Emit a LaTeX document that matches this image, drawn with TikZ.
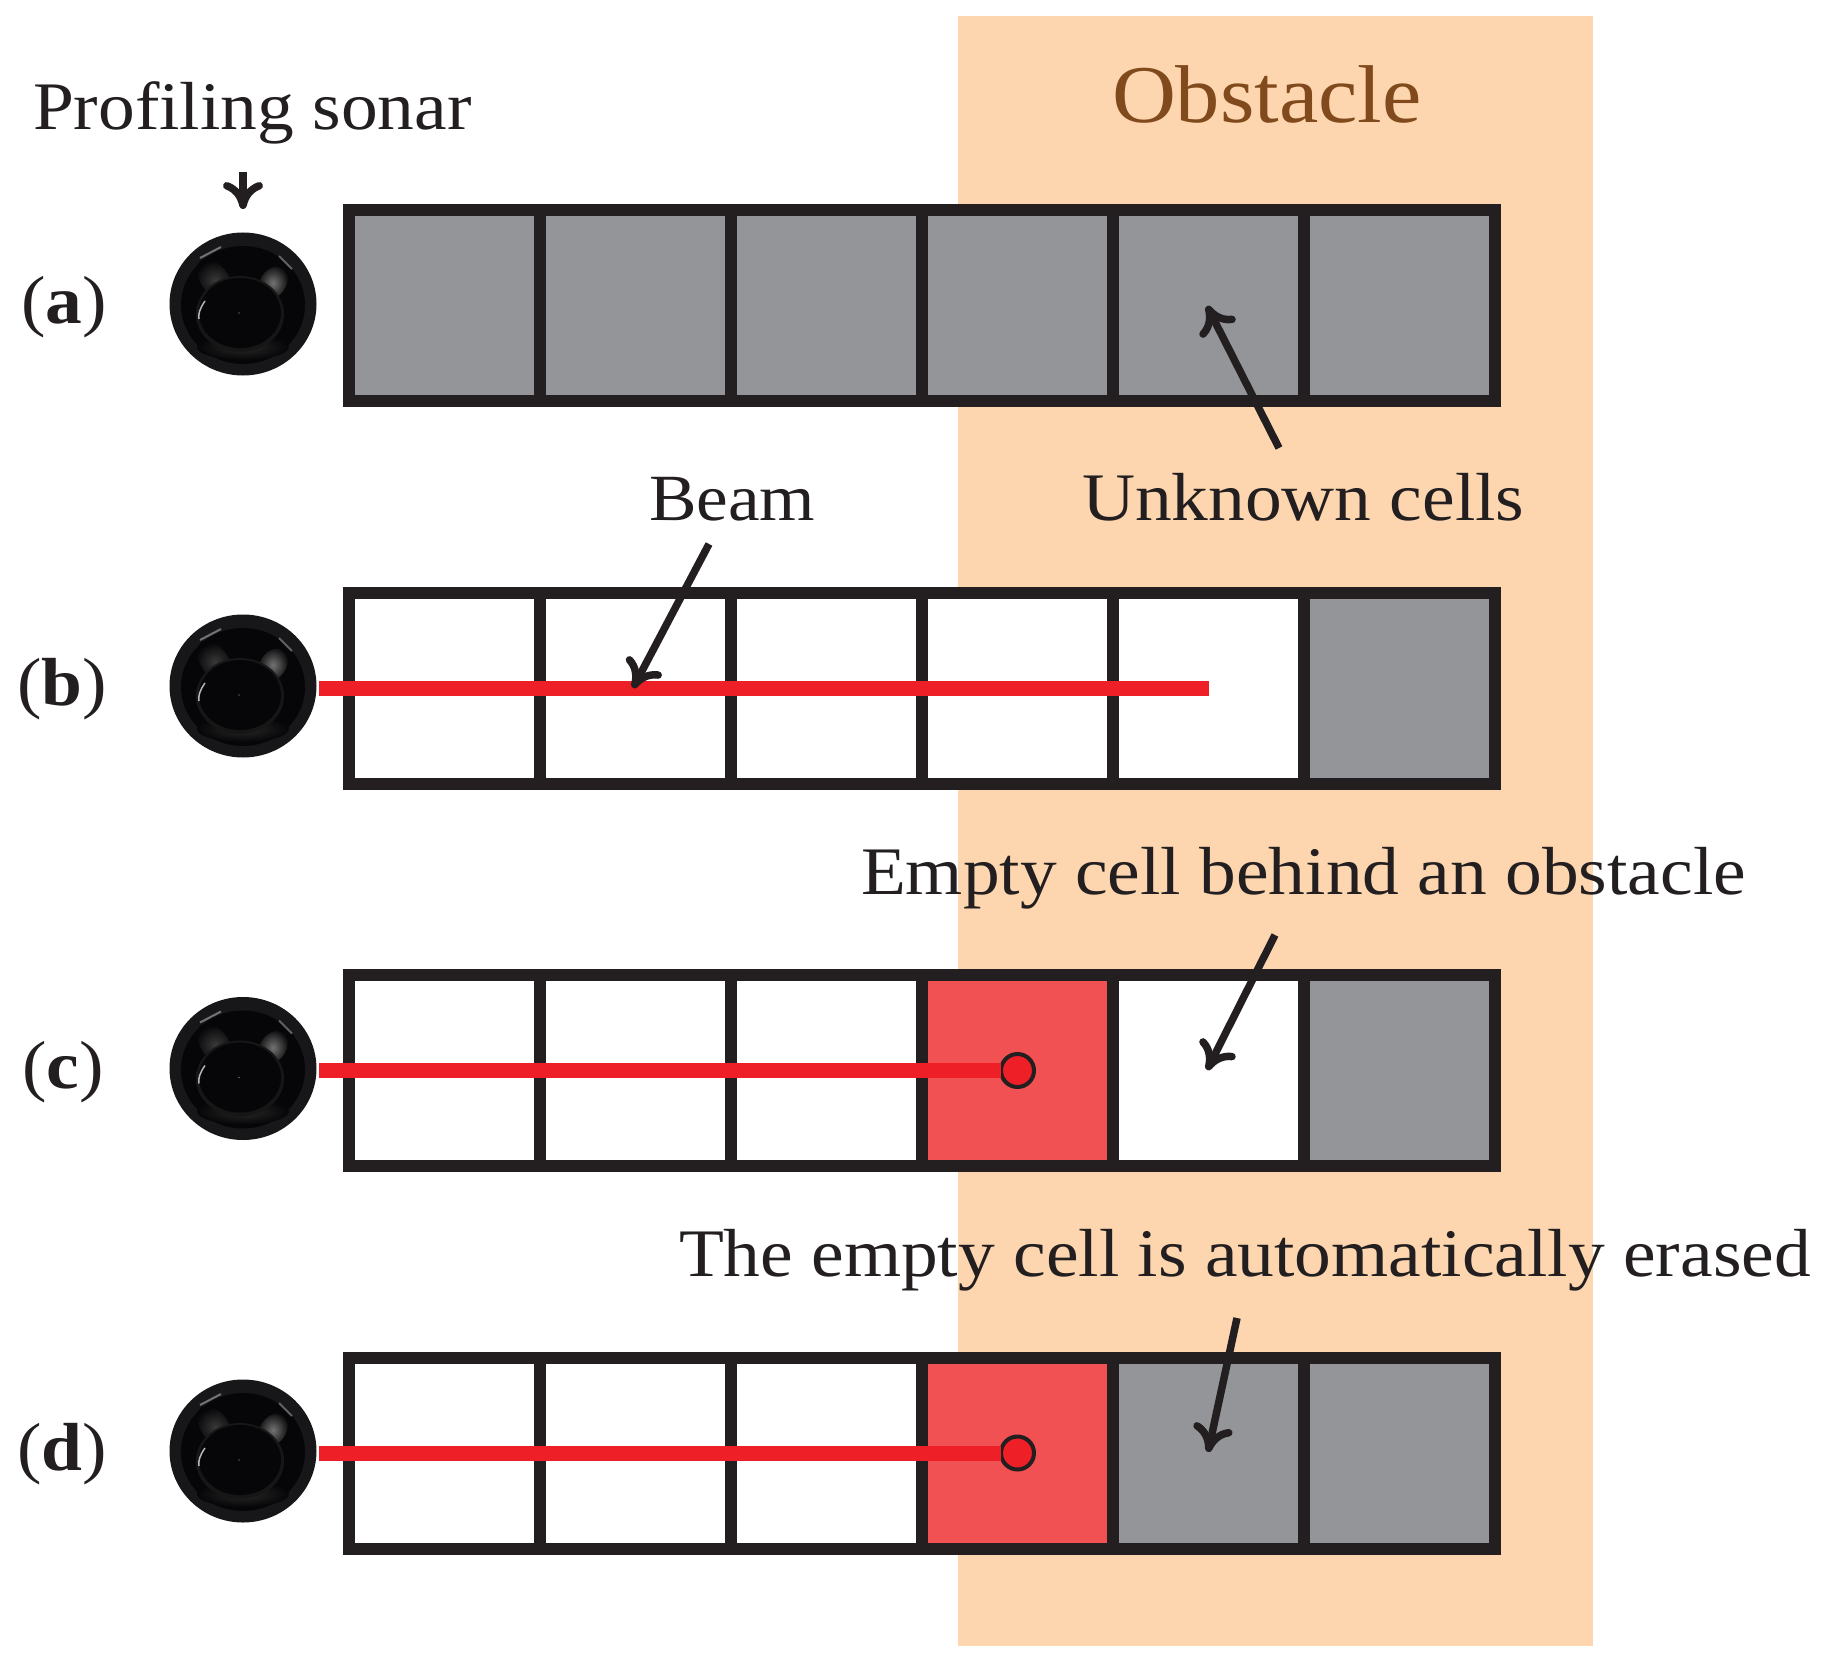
\documentclass[tikz,border=0pt]{standalone}
\usepackage{fontspec}
\setmainfont[FakeStretch=1.08]{Liberation Serif}
\usetikzlibrary{arrows.meta,shapes.geometric}
\definecolor{ink}{HTML}{231F20}
\definecolor{peach}{HTML}{FDD6B0}
\definecolor{cellgray}{HTML}{939598}
\definecolor{hitred}{HTML}{F15152}
\definecolor{beamred}{HTML}{EE1F26}
\definecolor{brownish}{HTML}{804A1C}
\definecolor{sonarrim}{HTML}{17171A}
\definecolor{sonardark}{HTML}{060608}
\tikzset{
  x=1pt,y=-1pt,
  cellbox/.style={draw=ink,line width=12pt,rectangle,inner sep=0pt,outer sep=0pt,minimum width=191pt,minimum height=191pt},
  txt/.style={inner sep=0pt,outer sep=0pt,anchor=base west,text=ink,font=\fontsize{#1}{#1}\selectfont},
  callout/.style={draw=ink,line width=7.5pt,-{Computer Modern Rightarrow[length=27pt,width=40pt,line width=7.5pt]}},
  beamline/.style={draw=beamred,line width=15pt},
  hitdot/.style={circle,draw=ink,line width=4pt,fill=beamred,minimum size=33pt,inner sep=0pt,outer sep=0pt},
  sonarbody/.style={ellipse,fill=sonarrim,minimum width=147pt,minimum height=143pt,inner sep=0pt,outer sep=0pt},
  glow/.style={inner color=#1,outer color=sonardark},
}
% #1 name, #2 y of the row centre
\newcommand{\sonardisc}[2]{%
  \node[sonarbody] (#1) at (243,#2) {};
  \begin{scope}[shift={(243,#2)}]
    \fill[sonardark] (0,1) ellipse [x radius=62,y radius=59];
    \shade[glow=white!16!black] (0,43) ellipse [x radius=46,y radius=13];
    \shade[glow=white!22!black,rotate around={35:(-28,-24)}] (-28,-24) ellipse [x radius=14,y radius=24];
    \shade[glow=white!45!black,rotate around={-35:(30,-21)}] (30,-21) ellipse [x radius=13,y radius=18];
    \shade[inner color=white!3!black,outer color=white!9!black] (-3,10) ellipse [x radius=44,y radius=38];
    \fill[sonardark] (-3,9) ellipse [x radius=41,y radius=35];
    \draw[white!72!black,line width=1.5pt] (-38,-3) .. controls (-43,4) and (-45,10) .. (-44,15);
    \draw[white!45!black,line width=2pt] (-43,-46) -- (-22,-57);
    \draw[white!38!black,line width=2pt] (36,-48) -- (49,-35);
    \fill[white!70!black] (-4,9) circle [radius=.7];
  \end{scope}
}
% #1 row prefix, #2 y centre, #3-#8 fills
\newcommand{\cellrow}[8]{%
  \node[cellbox,fill=#3] (#11) at (444.5,#2) {};
  \node[cellbox,fill=#4] (#12) at (635.5,#2) {};
  \node[cellbox,fill=#5] (#13) at (826.5,#2) {};
  \node[cellbox,fill=#6] (#14) at (1017.5,#2) {};
  \node[cellbox,fill=#7] (#15) at (1208.5,#2) {};
  \node[cellbox,fill=#8] (#16) at (1399.5,#2) {};
}
\begin{document}
\begin{tikzpicture}
\useasboundingbox (0,0) rectangle (1834,1664);
\fill[white] (0,0) rectangle (1834,1664);
\node[rectangle,fill=peach,inner sep=0pt,outer sep=0pt,minimum width=635pt,minimum height=1630pt] (obstacle) at (1275.5,831) {};

\cellrow{a}{305.5}{cellgray}{cellgray}{cellgray}{cellgray}{cellgray}{cellgray}
\cellrow{b}{688}{white}{white}{white}{white}{white}{cellgray}
\cellrow{c}{1070.5}{white}{white}{white}{hitred}{white}{cellgray}
\cellrow{d}{1453}{white}{white}{white}{hitred}{cellgray}{cellgray}

\sonardisc{sa}{304}
\sonardisc{sb}{686}
\sonardisc{sc}{1068.5}
\sonardisc{sd}{1451}

% beams
\coordinate (bstart) at (319,688);
\coordinate (bend) at (b5.center);
\draw[beamline] (bstart) -- (bend);
\node[hitdot] (hc) at (c4.center) {};
\node[hitdot] (hd) at (d4.center) {};
\coordinate (cstart) at (319,1070.5);
\coordinate (dstart) at (319,1453);
\draw[beamline] (cstart) -- (hc.west);
\draw[beamline] (dstart) -- (hd.west);

% labels
\node[txt=68] (lsonar) at (33,130) {Profiling sonar};
\node[txt=82,text=brownish] (lobst) at (1112,123) {Obstacle};
\node[txt=68] (lunk) at (1082,520) {Unknown cells};
\node[txt=66] (lbeam) at (649,520) {Beam};
\node[txt=68] (lempty) at (861,894) {Empty cell behind an obstacle};
\node[txt=68] (lerase) at (679,1276) {The empty cell is automatically erased};
\node[txt=68] (ra) at (21,323) {(\textbf{a})};
\node[txt=68] (rb) at (17,705) {(\textbf{b})};
\node[txt=68] (rc) at (22,1088) {(\textbf{c})};
\node[txt=68] (rd) at (17,1470) {(\textbf{d})};

% callouts
\coordinate (t1) at (243,172);
\coordinate (h1) at (243,209);
\draw[callout] (t1) -- (h1);
\coordinate (t2) at (1279,448);
\coordinate (h2) at (1207,306);
\draw[callout] (t2) -- (h2);
\coordinate (t3) at (709,544);
\coordinate (h3) at (633,688);
\draw[callout] (t3) -- (h3);
\coordinate (t4) at (1275,935);
\coordinate (h4) at (1207,1070);
\draw[callout] (t4) -- (h4);
\coordinate (t5) at (1237,1318);
\coordinate (h5) at (1208,1452);
\draw[callout] (t5) -- (h5);
\end{tikzpicture}
\end{document}
